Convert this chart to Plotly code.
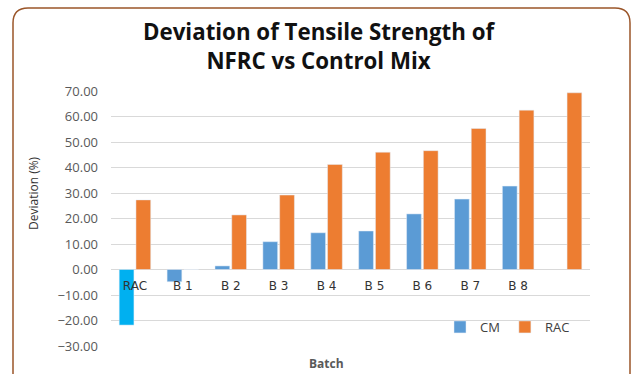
import plotly.graph_objects as go

# Tensile strength deviation (%) by batch
batches = ["RAC", "B 1", "B 2", "B 3", "B 4", "B 5", "B 6", "B 7", "B 8", ""]
cm_dev = [-21.8, -4.8, 1.4, 10.9, 14.4, 15.1, 21.8, 27.6, 32.7, None]
rac_dev = [27.3, 0.0, 21.4, 29.2, 41.2, 46.0, 46.6, 55.3, 62.5, 69.3]
y_ticks = [-30, -20, -10, 0, 10, 20, 30, 40, 50, 60, 70]

W, H = 636, 374
L, R, T, B = 111, 46, 91, 28
PW, PH = W - L - R, H - T - B
y_min, y_max = y_ticks[0], y_ticks[-1]


def px(x):
    return (x - L) / PW


def py(y):
    return (H - B - y) / PH


pos = list(range(len(batches)))

BLUE = "#5B9BD5"
CYAN = "#00B0F0"
ORANGE = "#ED7D31"

fig = go.Figure()
# The reference mix (first batch) of the CM series is drawn in a brighter blue
fig.add_trace(go.Bar(x=pos[:1], y=cm_dev[:1], marker_color=CYAN, offsetgroup="cm",
                     showlegend=False, hoverinfo="y"))
fig.add_trace(go.Bar(x=pos[1:], y=cm_dev[1:], marker_color=BLUE, offsetgroup="cm",
                     name="CM"))
fig.add_trace(go.Bar(x=pos, y=rac_dev, marker_color=ORANGE, offsetgroup="rac",
                     name="RAC"))

zero_pos = (0 - y_min) / (y_max - y_min)

fig.update_layout(
    width=W, height=H,
    margin=dict(l=L, r=R, t=T, b=B, pad=0),
    paper_bgcolor="white", plot_bgcolor="white",
    barmode="group", bargap=0.3, bargroupgap=0.12,
    font=dict(family="Open Sans", color="#404040"),
    xaxis=dict(
        range=[-0.5, len(batches) - 0.5],
        tickmode="array", tickvals=pos, ticktext=batches,
        anchor="free", position=zero_pos,
        showgrid=False, zeroline=False, showline=False, ticks="",
        tickfont=dict(family="DejaVu Sans", size=12, color="#333333"),
        ticklabelstandoff=7,
    ),
    yaxis=dict(
        range=[y_min, y_max], tickvals=y_ticks, tickformat=".2f",
        showgrid=True, gridcolor="#D9D9D9", gridwidth=1,
        zeroline=True, zerolinecolor="#D9D9D9", zerolinewidth=1,
        showline=False, ticks="",
        tickfont=dict(family="Open Sans", size=13, color="#595959"),
        ticklabelstandoff=12,
    ),
    legend=dict(
        orientation="h", x=px(440), y=py(327), xanchor="left", yanchor="middle",
        font=dict(family="Open Sans", size=13, color="#404040"),
        bgcolor="rgba(0,0,0,0)", itemwidth=30,
    ),
)

fig.add_annotation(
    text="<b>Deviation of Tensile Strength of<br>NFRC vs Control Mix</b>",
    xref="paper", yref="paper", x=px(319), y=py(46), xanchor="center", yanchor="middle",
    showarrow=False, font=dict(family="Open Sans", size=22.3, color="#111111"),
)
fig.add_annotation(
    text="Deviation (%)", textangle=-90,
    xref="paper", yref="paper", x=px(33), y=py(193), xanchor="center", yanchor="middle",
    showarrow=False, font=dict(family="Open Sans", size=12, color="#333333"),
)
fig.add_annotation(
    text="<b>Batch</b>",
    xref="paper", yref="paper", x=px(326), y=py(363), xanchor="center", yanchor="middle",
    showarrow=False, font=dict(family="Open Sans", size=12, color="#595959"),
)

# Rounded frame around the chart, open at the bottom edge
x0, x1, y0, y1, r = px(13), px(630), py(8), py(380), 15
rx, ry = r / PW, r / PH
frame = (f"M {x0} {y1} L {x0} {y0 - ry} Q {x0} {y0} {x0 + rx} {y0} "
         f"L {x1 - rx} {y0} Q {x1} {y0} {x1} {y0 - ry} L {x1} {y1}")
fig.add_shape(type="path", path=frame, xref="paper", yref="paper",
              line=dict(color="#9A5529", width=1.5), layer="above")

fig.write_html("out.html")
